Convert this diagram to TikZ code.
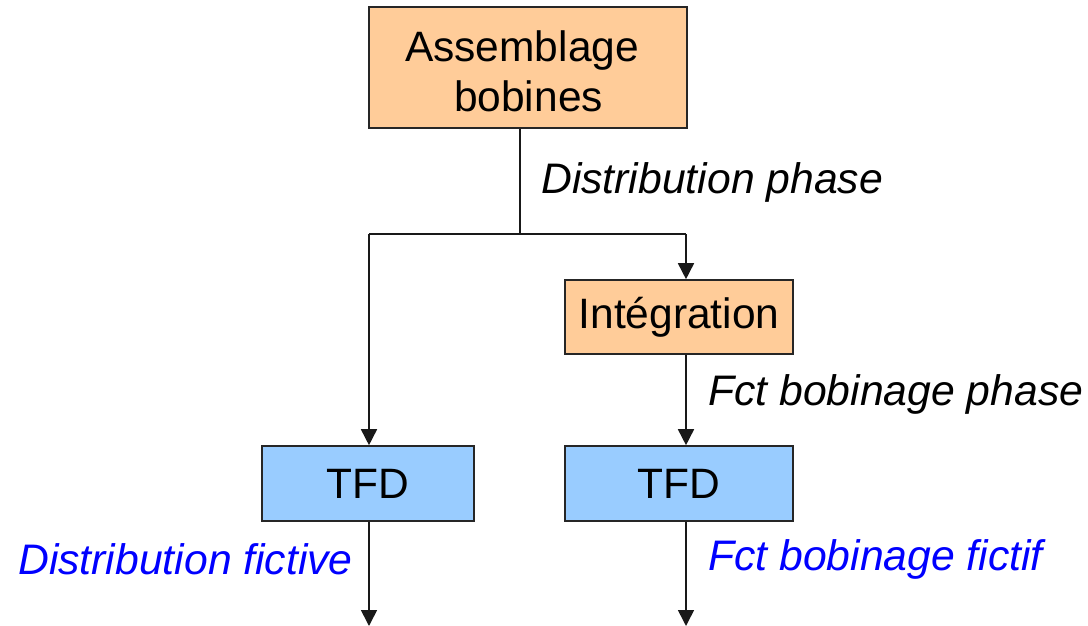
\documentclass[tikz,border=0pt]{standalone}
\usepackage{fontspec}
\setmainfont{Liberation Sans}
\usetikzlibrary{arrows.meta}
\definecolor{boxorange}{HTML}{FFCC99}
\definecolor{boxblue}{HTML}{99CCFF}
\definecolor{lblblue}{HTML}{0000FF}
\begin{document}
\begin{tikzpicture}[x=1pt,y=-1pt,
  boxfont/.style={font=\fontsize{42.5}{50}\selectfont},
  box/.style={draw=black!85,line width=1.6pt,inner sep=0pt,align=center,boxfont},
  orangebox/.style={box,fill=boxorange},
  bluebox/.style={box,fill=boxblue},
  conn/.style={line width=1.6pt,draw=black!90},
  arr/.style={conn,-{Triangle[length=16pt,width=16pt]}},
  lbl/.style={font=\fontsize{42.7}{50}\selectfont\itshape,inner sep=0pt,anchor=west}]
\useasboundingbox (0,0) rectangle (1088,626);
\node[orangebox,minimum width=318pt,minimum height=121pt] (asm) at (528,67.5) {};
\node[boxfont,align=center,inner sep=0pt] (asmtxt) at (522,71) {Assemblage\\\hspace*{13pt}bobines};
\node[orangebox,minimum width=228pt,minimum height=74pt] (integ) at (679,317) {Intégration};
\node[bluebox,minimum width=212pt,minimum height=75pt] (tfdL) at (368,483.5) {TFD};
\node[bluebox,minimum width=228pt,minimum height=75pt] (tfdR) at (679,483.5) {TFD};
\coordinate (split) at (520,234);
\coordinate (jL) at (369,234);
\coordinate (jR) at (686,234);
\coordinate (endL) at (369,626);
\coordinate (endR) at (686,626);
\draw[conn] (asm.south -| split) -- (split);
\draw[conn] (jL) -- (jR);
\draw[arr] (jR) -- (integ.north -| jR);
\draw[arr] (jL) -- (tfdL.north -| jL);
\draw[arr] (integ.south -| jR) -- (tfdR.north -| jR);
\draw[arr] (tfdL.south -| jL) -- (endL);
\draw[arr] (tfdR.south -| jR) -- (endR);
\node[lbl] (l1) at (541,182) {Distribution phase};
\node[lbl] (l2) at (708,394) {Fct bobinage phase};
\node[lbl,text=lblblue] (l3) at (18,559) {Distribution fictive};
\node[lbl,text=lblblue] (l4) at (708,559) {Fct bobinage fictif};
\end{tikzpicture}
\end{document}
